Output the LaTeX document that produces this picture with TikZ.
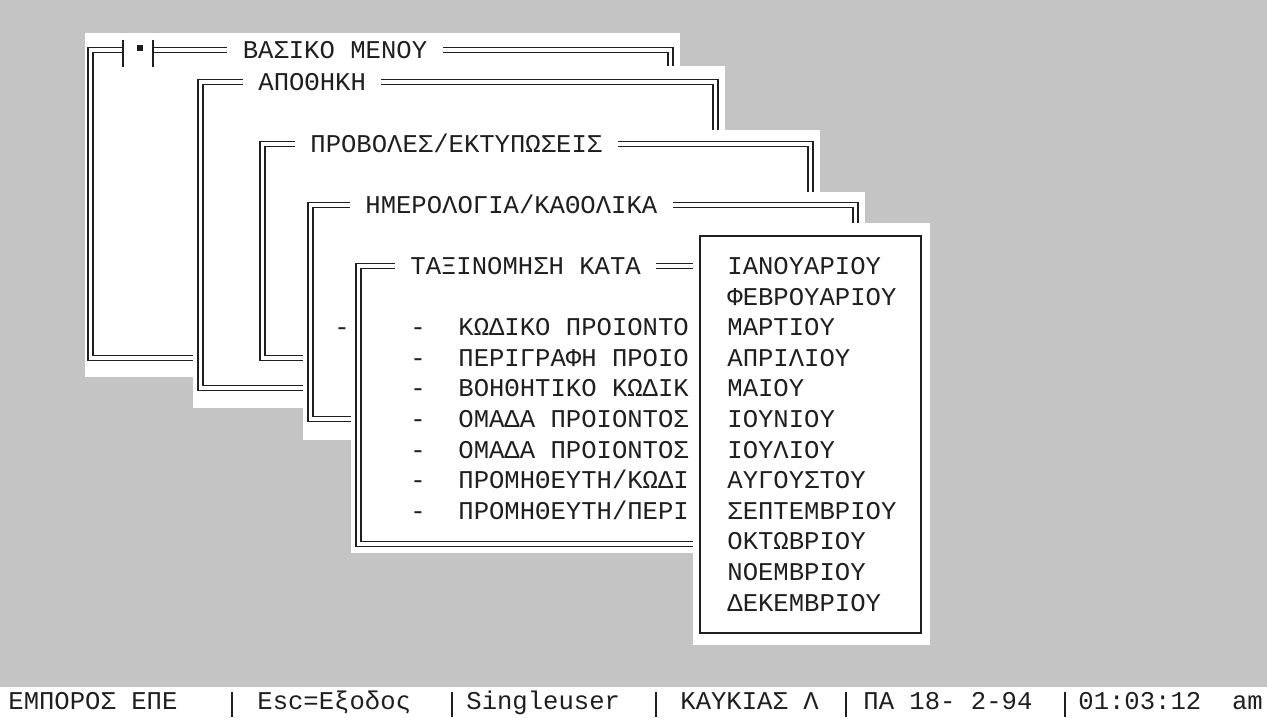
\documentclass[tikz,border=0pt]{standalone}
\usepackage{fontspec}
\newfontfamily\scrfont{Liberation Mono}
\usetikzlibrary{positioning}

\definecolor{dither}{gray}{0.77}
\definecolor{ink}{gray}{0.12}

\tikzset{
  scr/.style={font=\scrfont\fontsize{12.8}{14}\selectfont, text=ink, inner sep=0pt,
    text height=8.4pt, text depth=0pt, anchor=west},
  wtitle/.style={scr, fill=white, inner xsep=7.7pt, inner ysep=1.5pt},
  dbl/.style={draw=ink, line width=0.55pt},
  panel/.style={fill=white},
  sepline/.style={draw=ink, line width=0.55pt}
}

% double frame round a window, given the centre lines
\newcommand{\dblframe}[4]{%
  \draw[dbl] ({#1-2.5},{#2-2.5}) rectangle ({#3+2.5},{#4+2.5});
  \draw[dbl] ({#1+2.5},{#2+2.5}) rectangle ({#3-2.5},{#4-2.5});
}

\begin{document}
\begin{tikzpicture}[x=0.5pt,y=-0.5pt]
% Screen
\fill[dither] (0,0) rectangle (1267,717);
\useasboundingbox (0,0) rectangle (1267,717);

% Main menu
\fill[panel] (85,33) rectangle (680,377);
\dblframe{90.5}{50}{670.5}{358}
\fill[white] (124,44) rectangle (152,57);
\draw[sepline] (123,40) -- (123,67) (153,40) -- (153,67);
\fill[ink] (137,45) rectangle (143,51);
\node[wtitle] (tmain) at (227,50) {ΒΑΣΙΚΟ ΜΕΝΟΥ};

% Store
\fill[panel] (193,66) rectangle (725,408);
\dblframe{200.5}{82}{715.5}{388}
\node[wtitle] (tstore) at (242.6,82) {ΑΠΟΘΗΚΗ};

% Views/prints
\fill[panel] (255,130) rectangle (820,377);
\dblframe{262.5}{144}{810.5}{358}
\node[wtitle] (tview) at (294.6,144) {ΠΡΟΒΟΛΕΣ/ΕΚΤΥΠΩΣΕΙΣ};

% Journals
\fill[panel] (303,192) rectangle (865,440);
\dblframe{310.5}{205}{855.5}{419}
\node[wtitle] (tjournal) at (349.6,205) {ΗΜΕΡΟΛΟΓΙΑ/ΚΑΘΟΛΙΚΑ};
\node[scr] (dhidden) at (334,327) {-};

% Sort by
\fill[panel] (351,253) rectangle (905,553);
\dblframe{358.5}{266}{895}{544}
\node[wtitle] (tsort) at (394.6,266) {ΤΑΞΙΝΟΜΗΣΗ ΚΑΤΑ};
\foreach \txt [count=\i from 2] in {ΚΩΔΙΚΟ ΠΡΟΙΟΝΤΟ, ΠΕΡΙΓΡΑΦΗ ΠΡΟΙΟ, ΒΟΗΘΗΤΙΚΟ ΚΩΔΙΚ,
    ΟΜΑΔΑ ΠΡΟΙΟΝΤΟΣ, ΟΜΑΔΑ ΠΡΟΙΟΝΤΟΣ, ΠΡΟΜΗΘΕΥΤΗ/ΚΩΔΙ, ΠΡΟΜΗΘΕΥΤΗ/ΠΕΡΙ} {
  \node[scr] (dash\i) at (410,{266+30.6*\i}) {-};
  \node[scr] (item\i) at (458,{266+30.6*\i}) {\txt};
}

% Months
\fill[panel] (693,223) rectangle (930,645);
\draw[sepline] (700,236) rectangle (921,633);
\foreach \m [count=\k from 0] in {ΙΑΝΟΥΑΡΙΟΥ, ΦΕΒΡΟΥΑΡΙΟΥ, ΜΑΡΤΙΟΥ, ΑΠΡΙΛΙΟΥ, ΜΑΙΟΥ,
    ΙΟΥΝΙΟΥ, ΙΟΥΛΙΟΥ, ΑΥΓΟΥΣΤΟΥ, ΣΕΠΤΕΜΒΡΙΟΥ, ΟΚΤΩΒΡΙΟΥ, ΝΟΕΜΒΡΙΟΥ, ΔΕΚΕΜΒΡΙΟΥ}
  \node[scr] (month\k) at (727,{266+30.6*\k}) {\m};

% Status bar
\fill[white] (0,687) rectangle (1267,717);
\node[scr] (firm) at (8,701) {ΕΜΠΟΡΟΣ ΕΠΕ};
\node[scr] (esc) at (257,701) {Esc=Εξοδος};
\node[scr] (user) at (466,701) {Singleuser};
\node[scr] (name) at (680,701) {ΚΑΥΚΙΑΣ Λ};
\node[scr] (date) at (863,701) {ΠΑ 18- 2-94};
\node[scr] (clock) at (1078,701) {01:03:12\ \ am};
\foreach \x in {232,452,656,846,1065}
  \draw[sepline] (\x,692) -- (\x,717);

\end{tikzpicture}
\end{document}
